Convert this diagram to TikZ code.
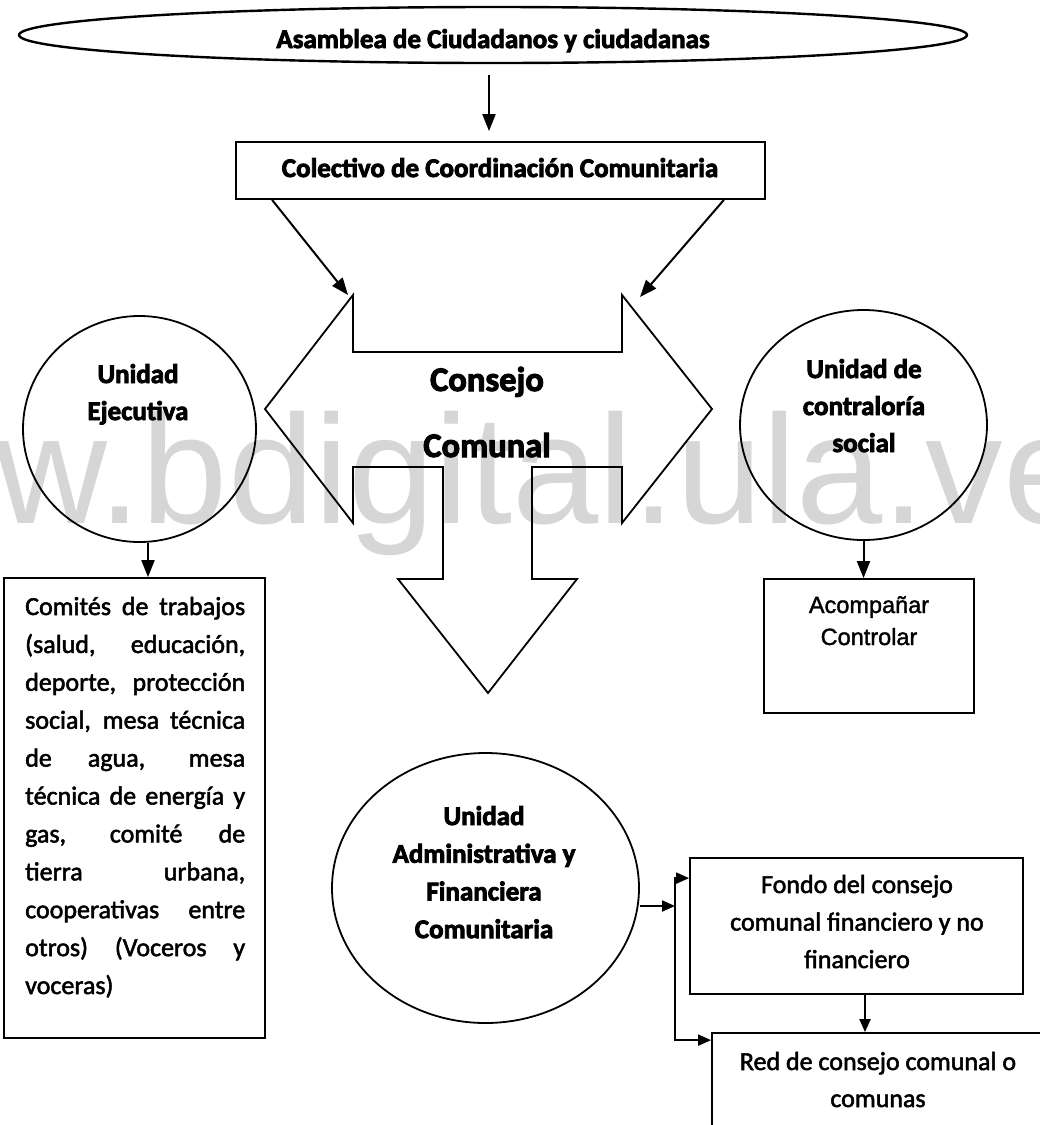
\documentclass[tikz,border=0pt]{standalone}
\usepackage{fontspec}
\setmainfont{Carlito}[UprightFeatures={FakeBold=2},BoldFeatures={FakeBold=3}]
\newfontfamily\arialf{Liberation Sans}[FakeBold=1.5]
\newfontfamily\wmf{Liberation Sans}
\usetikzlibrary{arrows.meta,calc,shapes.geometric}

\begin{document}
\begin{tikzpicture}[x=1pt,y=-1pt,
  line/.style={draw=black,line width=1.8pt},
  boxn/.style={line,rectangle,inner sep=0pt},
  circn/.style={line,ellipse,inner sep=0pt},
  arr/.style={line width=2pt,-{Triangle[length=17pt,width=13pt]}},
  arrs/.style={line width=2pt,-{Triangle[length=13pt,width=11pt]}},
  head/.style={font=\fontsize{27}{38}\selectfont\bfseries,anchor=base,inner sep=0pt},
  big/.style={font=\fontsize{34.5}{40}\selectfont\bfseries,anchor=base,inner sep=0pt},
  body/.style={font=\fontsize{26}{38}\selectfont,anchor=base,inner sep=0pt},
  arialtxt/.style={font=\arialf\fontsize{23.5}{30}\selectfont,anchor=base,inner sep=0pt},
  wm/.style={font=\wmf\fontsize{155}{160}\selectfont,text=black!16,anchor=base east,inner sep=0pt}
]
\clip (0,0) rectangle (1040,1125);
\fill[white] (0,0) rectangle (1040,1125);

% watermark
\node[wm] (wmark) at (1090,523) {www.bdigital.ula.ve};

% shapes
\node[circn, minimum width=948pt, minimum height=56pt, line width=2.4pt] (asm) at (493,35) {};
\node[boxn, minimum width=529pt, minimum height=57pt] (col) at (500.5,170.5) {};
\node[circn, minimum width=233pt, minimum height=226pt] (ue) at (139.5,429) {};
\node[circn, minimum width=247pt, minimum height=230pt] (ucs) at (863.5,425) {};
\node[circn, minimum width=307pt, minimum height=270pt] (uaf) at (485.5,888) {};
\node[boxn, minimum width=261pt, minimum height=460pt] (cbox) at (134.5,808) {};
\node[boxn, minimum width=210pt, minimum height=134pt] (acbox) at (869,646) {};
\node[boxn, minimum width=333pt, minimum height=136pt] (fondo) at (856.5,926) {};
\node[boxn, minimum width=334pt, minimum height=110pt] (red) at (879,1088) {};

% Consejo Comunal arrow shape
\draw[line,line join=miter] (353,295) -- (353,352) -- (622,352) -- (622,295) -- (712,409)
  -- (622,523) -- (622,467) -- (532,467) -- (532,579) -- (577,579) -- (488,693)
  -- (398,579) -- (443,579) -- (443,467) -- (353,467) -- (353,523) -- (265,409) -- cycle;
\coordinate (cl) at (348,295);
\coordinate (cr) at (640,297);

% connectors
\draw[arr] ([xshift=-4pt,yshift=-11pt]asm.south) -- ([xshift=-11.5pt,yshift=10pt]col.north);
\draw[arr] ([xshift=37pt]col.south west) -- (cl);
\draw[arr] ([xshift=-42pt]col.south east) -- (cr);
\draw[arr] ([xshift=8.5pt]ue.south) -- ([xshift=8.5pt]ue.south |- cbox.north);
\draw[arr] (ucs.south) -- (ucs.south |- acbox.north);
\coordinate (j) at (675,906);
\draw[arrs] (uaf.east |- j) -- (j);
\draw[arrs] (j) |- ([yshift=-21pt]fondo.north west);
\draw[arrs] (j) |- ([yshift=-8pt]red.north west);
\draw[arrs] ([xshift=8.5pt]fondo.south) -- ([xshift=8.5pt]fondo.south |- red.north);

% texts
\node[head] (t-asm) at (493,48) {Asamblea de Ciudadanos y ciudadanas};
\node[head] (t-col) at (500,177) {Colectivo de Coordinación Comunitaria};
\node[big] (t-cons1) at (487,391) {Consejo};
\node[big] (t-cons2) at (487,457) {Comunal};
\foreach \t [count=\i from 0] in {Unidad,Ejecutiva}
  \node[head] (t-ue\i) at (138,383+37*\i) {\t};
\foreach \t [count=\i from 0] in {Unidad de,contraloría,social}
  \node[head] (t-ucs\i) at (864,378+37*\i) {\t};
\foreach \t [count=\i from 0] in {Unidad,Administrativa y,Financiera,Comunitaria}
  \node[head] (t-uaf\i) at (484,825+37.7*\i) {\t};
\foreach \t [count=\i from 0] in {Fondo del consejo,comunal financiero y no,financiero}
  \node[body] (t-f\i) at (857,893+37.5*\i) {\t};
\foreach \t [count=\i from 0] in {Red de consejo comunal o,comunas}
  \node[body] (t-r\i) at (878,1070+37*\i) {\t};
\node[arialtxt] (t-ac0) at (869,613) {Acompañar};
\node[arialtxt] (t-ac1) at (869,645) {Controlar};
\foreach \t [count=\i from 0] in {Comités de trabajos,{(salud, educación,},{deporte, protección},{social, mesa técnica},{de agua, mesa},técnica de energía y,{gas, comité de},{tierra urbana,},cooperativas entre,otros) (Voceros y}
  \node[body,anchor=base west] (t-c\i) at (25,615+37.9*\i) {\makebox[220pt][s]{\t}};
\node[body,anchor=base west] (t-c10) at (25,994) {voceras)};
\end{tikzpicture}
\end{document}
